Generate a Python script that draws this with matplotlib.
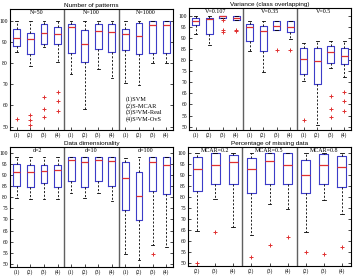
import matplotlib
matplotlib.use("Agg")
import matplotlib.pyplot as plt
import matplotlib.transforms as mtransforms

# ---- Number of patterns ----
pat_groups = ["N=50", "N=100", "N=1000"]
pat_med = [92, 91.4, 94, 93.5, 96.9, 88.8, 95.3, 94.5, 93.5, 92.9, 98, 97.8]
pat_q1 = [88, 84.3, 89.2, 88.8, 84.6, 80.3, 86.5, 85, 86, 84.4, 84.6, 84.6]
pat_q3 = [95.9, 94, 98.4, 97.2, 98.3, 95.6, 98.3, 98.3, 96, 98.7, 100, 100]
pat_lo = [85, 78.8, 87.4, 80.5, 74.7, 58.2, 77, 72.8, 70.8, 69.8, 79.9, 79.9]
pat_hi = [100, 100, 100, 100, 100, 100, 100, 100, 100, 100, 100, 100]
pat_fliers = [[53.6], [55.3, 53, 50.6], [64.2, 58.3, 54.5], [66.2, 62, 57.4],
              [], [], [], [], [], [], [], []]

# ---- Variance (class overlapping) ----
var_groups = ["V=0.107", "V=0.35", "V=0.5"]
var_med = [97.8, 98.7, 99.8, 99.2, 95, 93, 95.3, 95, 80.6, 79.8, 83.5, 81.8]
var_q1 = [95.8, 92, 99.2, 98.3, 88.5, 84.2, 93.8, 92.7, 73.8, 69.4, 78.7, 78.3]
var_q3 = [99.2, 99.2, 100, 99.8, 96.5, 95.4, 97.5, 97.5, 85.5, 85.5, 86.4, 85.3]
var_lo = [92, 86.7, 99.2, 98, 84.2, 74.5, 93.8, 89.5, 70.7, 50.7, 76.6, 72.3]
var_hi = [99.8, 99.8, 100, 100, 97.5, 97.5, 97.5, 97.5, 87.8, 88.8, 88.8, 88.8]
var_fliers = [[], [], [98, 93.4, 92.5], [93.8, 93], [], [], [84.5], [84.5],
              [53], [], [64, 58, 54.2], [65.8, 61.6, 57.2]]

# ---- Data dimensionality ----
dim_groups = ["d=2", "d=10", "d=100"]
dim_med = [91.3, 91.3, 92, 92.2, 97, 96.2, 97, 96.5, 88.6, 80.8, 95.8, 94.6]
dim_q1 = [85.3, 84.7, 86.3, 84.8, 87.5, 84.8, 87.5, 85.1, 74.3, 69.8, 82.7, 81.5]
dim_q3 = [95.3, 94.6, 94.6, 94.6, 98.5, 98.5, 98.5, 98.5, 95.8, 91.7, 98.5, 98.3]
dim_lo = [79.7, 79.3, 79.4, 79.4, 81.8, 79.6, 81.8, 78.5, 54.2, 51.5, 58.6, 57.5]
dim_hi = [98.5, 98.5, 98.5, 98.5, 98.5, 98.5, 98.5, 98.5, 97.7, 98.5, 98.5, 98.5]
dim_fliers = [[], [], [], [], [], [], [], [], [], [], [54.5], []]

# ---- Percentage of missing data ----
mis_groups = ["MCAR=0.2", "MCAR=0.5", "MCAR=0.8"]
mis_med = [92.4, 94.5, 95.8, 92.7, 96, 94.5, 90, 94.2, 93.6]
mis_q1 = [82.4, 85.5, 85.5, 81.4, 85.5, 85.5, 81.8, 85.5, 84.4]
mis_q3 = [98, 99.7, 98.8, 97.6, 99.7, 99.7, 96.8, 99.5, 98.3]
mis_lo = [64.5, 78.8, 66, 62.4, 76.8, 74.2, 63.9, 78.6, 72.3]
mis_hi = [100, 100, 100, 100, 100, 100, 100, 100, 100]
mis_fliers = [[50], [63.9], [], [52.4], [57.9], [61.7], [54.8], [54.1], [57]]

labels4 = ["(1)", "(2)", "(3)", "(4)"]
labels3 = ["(2)", "(3)", "(4)"]
legend_lines = ["(1)SVM", "(2)S-MCAR", "(3)S³VM-Real", "(4)S³VM-OvS"]

SERIF = "Liberation Serif"
SANS = "Liberation Sans"
BLUE = "#3c3cc8"


def draw_panel(ax, title, groups, med, q1, q3, lo, hi, fliers, xlabels,
               ylim, yticks):
    stats = []
    for i in range(len(med)):
        stats.append(dict(med=med[i], q1=q1[i], q3=q3[i],
                          whislo=lo[i], whishi=hi[i], fliers=fliers[i]))
    n = len(stats)
    per = n // len(groups)
    pos = list(range(1, n + 1))
    ax.bxp(stats, positions=pos, widths=0.5, capwidths=0.2, showfliers=True,
           boxprops=dict(color=BLUE, linewidth=0.8),
           whiskerprops=dict(color="black", linewidth=0.6, linestyle=(0, (2.5, 2))),
           capprops=dict(color="black", linewidth=0.6),
           medianprops=dict(color="#e03030", linewidth=0.9),
           flierprops=dict(marker="+", markeredgecolor="#e03030",
                           markersize=3, markeredgewidth=0.7))
    for k in range(1, len(groups)):
        ax.axvline(k * per + 0.5, color="#606060", linewidth=1.0)
    trans = mtransforms.blended_transform_factory(ax.transData, ax.transAxes)
    for k, g in enumerate(groups):
        ax.text(k * per + (per + 1) / 2, 0.995, g, transform=trans,
                ha="center", va="top", fontsize=4.3, family=SERIF)
    ax.set_xlim(0.5, n + 0.5)
    ax.set_ylim(*ylim)
    ax.set_yticks(yticks)
    ax.set_xticks(pos)
    ax.set_xticklabels(xlabels * len(groups))
    ax.tick_params(direction="in", length=2, width=0.5, labelsize=4,
                   right=True, pad=1.5)
    for lab in ax.get_xticklabels() + ax.get_yticklabels():
        lab.set_family(SERIF)
    for s in ax.spines.values():
        s.set_linewidth(0.8)
    ax.set_title(title, fontsize=4.6, pad=1.2, family=SANS)


fig = plt.figure(figsize=(3.53, 2.77), dpi=100)
W, H = 353, 277


def add_ax(l, t, r, b):
    return fig.add_axes([l / W, 1 - b / H, (r - l) / W, (b - t) / H])


ax1 = add_ax(10, 9, 173, 130)
ax2 = add_ax(189, 8, 351, 130)
ax3 = add_ax(10, 147, 173, 267)
ax4 = add_ax(188, 147, 351, 266)

draw_panel(ax1, "Number of patterns", pat_groups, pat_med, pat_q1, pat_q3,
           pat_lo, pat_hi, pat_fliers, labels4, (48.4, 105.5),
           [50, 60, 70, 80, 90, 100])
draw_panel(ax2, "Variance (class overlapping)", var_groups, var_med, var_q1,
           var_q3, var_lo, var_hi, var_fliers, labels4, (48.5, 103.5),
           list(range(50, 101, 5)))
draw_panel(ax3, "Data dimensionality", dim_groups, dim_med, dim_q1, dim_q3,
           dim_lo, dim_hi, dim_fliers, labels4, (48.5, 102.8),
           list(range(50, 101, 5)))
draw_panel(ax4, "Percentage of missing data", mis_groups, mis_med, mis_q1,
           mis_q3, mis_lo, mis_hi, mis_fliers, labels3, (48.5, 102.5),
           list(range(50, 101, 5)))

for i, line in enumerate(legend_lines):
    ax1.text(9.0, 63 - i * 3.1, line, fontsize=4.5, family=SERIF,
             ha="left", va="center")

fig.savefig("out.png", dpi=100)
